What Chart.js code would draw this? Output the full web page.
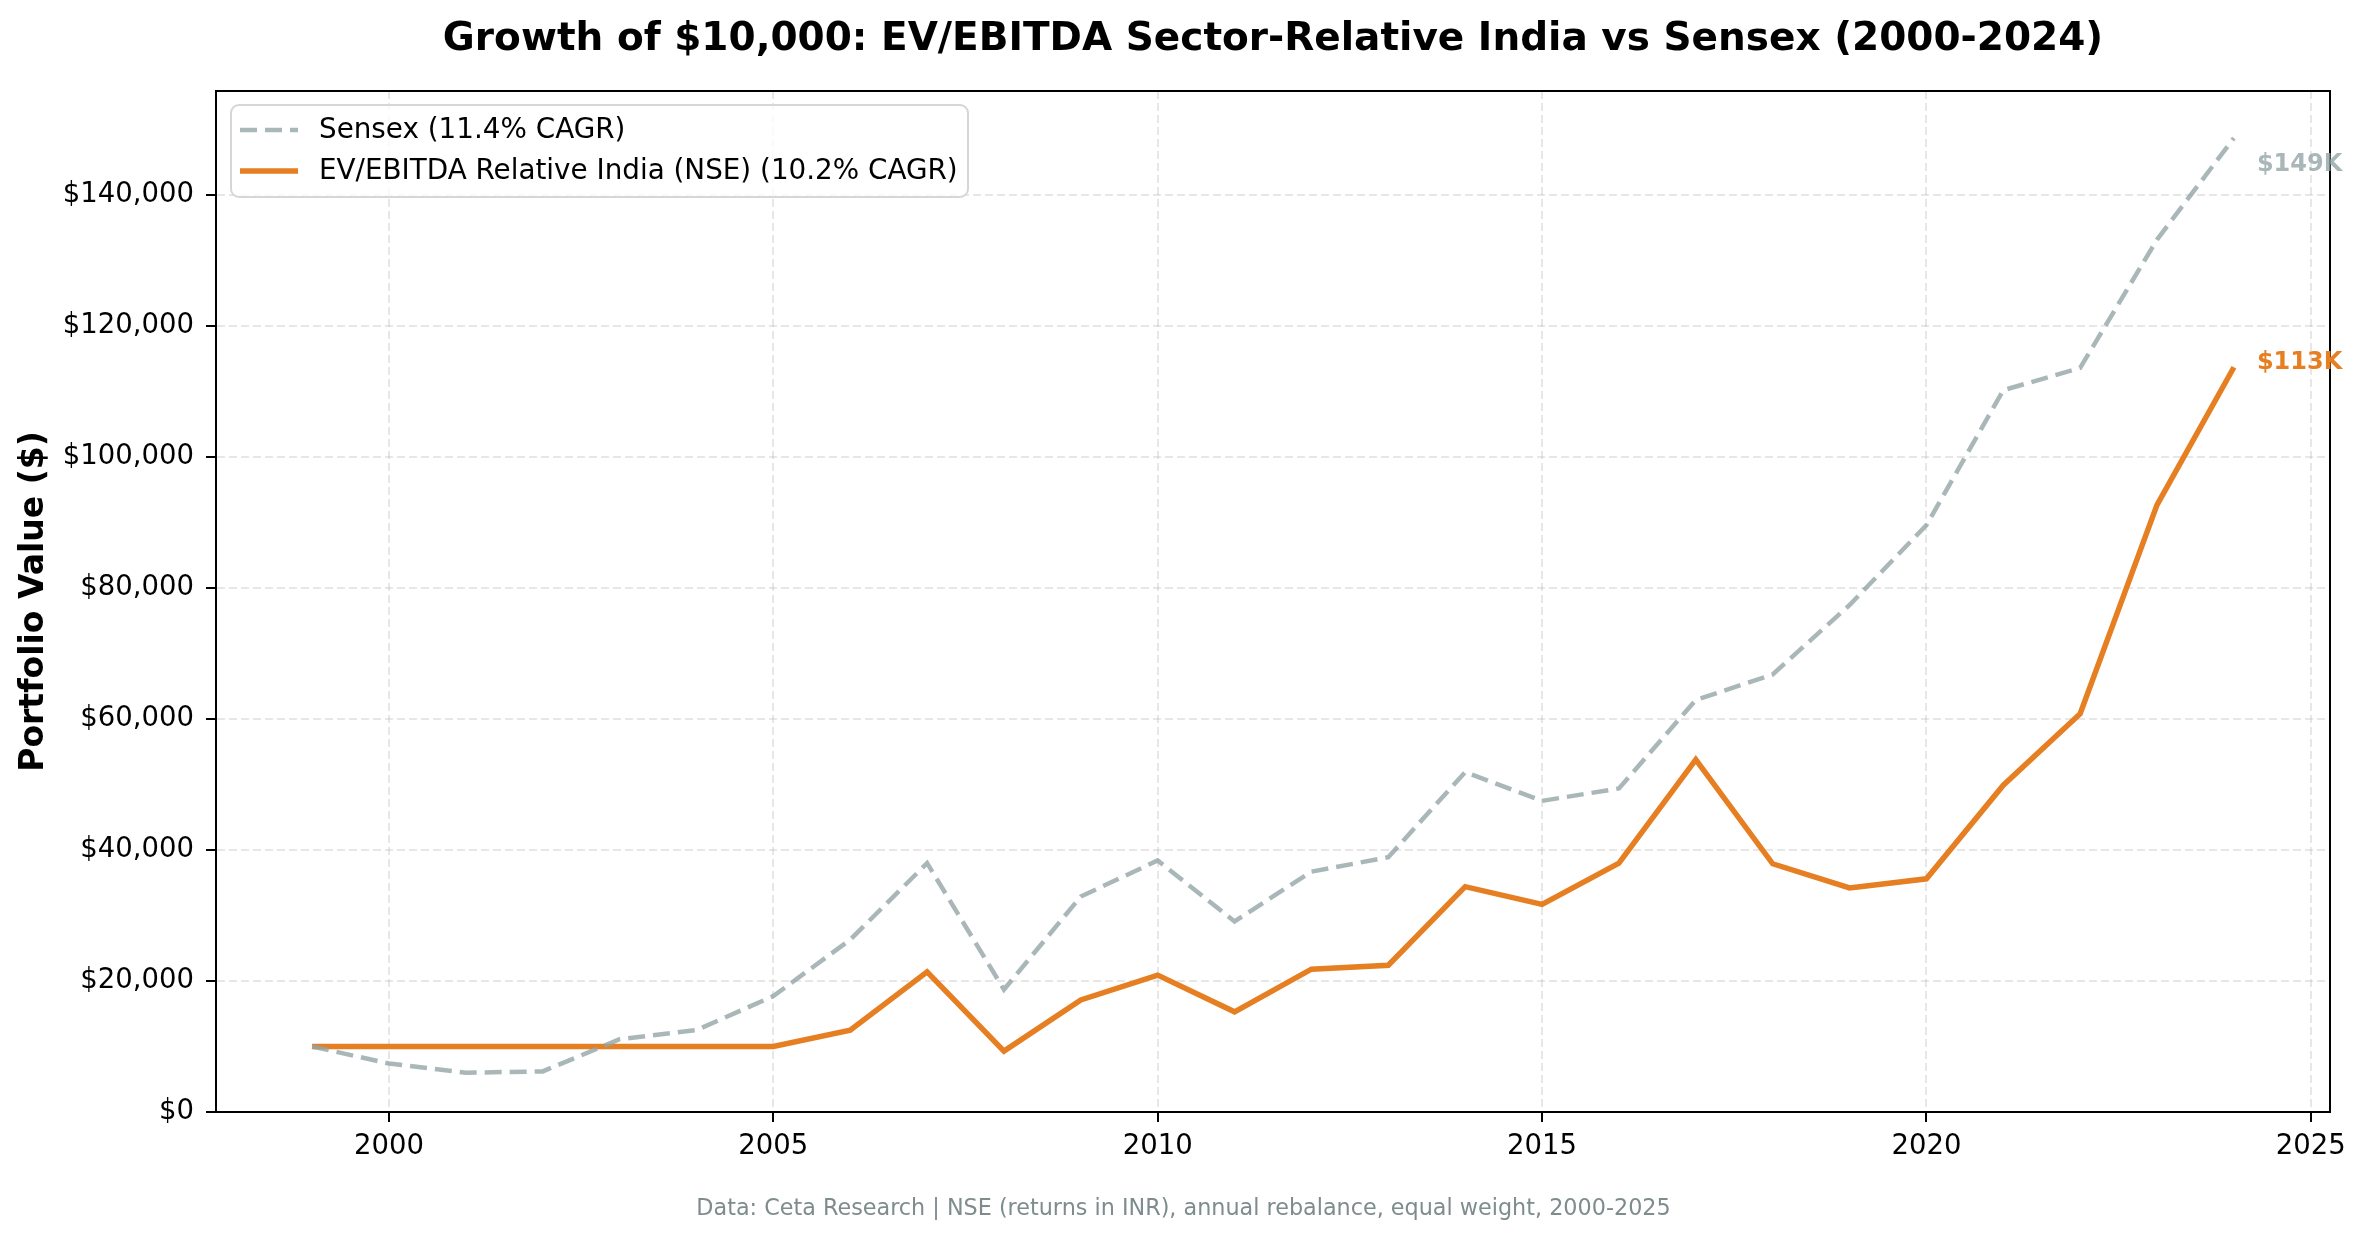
<!DOCTYPE html>
<html>
<head>
<meta charset="utf-8">
<script src="https://cdn.jsdelivr.net/npm/chart.js@4.4.1/dist/chart.umd.min.js"></script>
<style>
  html, body { margin: 0; padding: 0; background: #fff; }
  #wrap { width: 2367px; height: 1239px; position: relative; }
</style>
</head>
<body>
<div id="wrap"><canvas id="growth"></canvas></div>
<script>
// Portfolio values
const years = [1999, 2000, 2001, 2002, 2003, 2004, 2005, 2006, 2007, 2008, 2009, 2010, 2011,
               2012, 2013, 2014, 2015, 2016, 2017, 2018, 2019, 2020, 2021, 2022, 2023, 2024];
const sensexValues = [10000, 7400, 6000, 6200, 11100, 12500, 17700, 26300, 38000, 18700, 32900, 38400, 29100,
                      36700, 38900, 51900, 47500, 49400, 62900, 66800, 77400, 89600, 110200, 113600, 133200, 148700];
const strategyValues = [10000, 10000, 10000, 10000, 10000, 10000, 10000, 12500, 21400, 9300, 17100, 20900, 15300,
                        21800, 22400, 34400, 31700, 38000, 53800, 37900, 34200, 35600, 49900, 60800, 92700, 113700];
const xTicks = [2000, 2005, 2010, 2015, 2020, 2025];
const yTicks = [0, 20000, 40000, 60000, 80000, 100000, 120000, 140000];
const seriesNames = ['Sensex (11.4% CAGR)', 'EV/EBITDA Relative India (NSE) (10.2% CAGR)'];
const endLabels = ['$149K', '$113K'];

const FONT = "'DejaVu Sans', sans-serif";
const SENSEX_COLOR = 'rgba(149, 165, 166, 0.8)';
const STRATEGY_COLOR = '#e67e22';

// title, footer, frame, legend and end labels
const decorations = {
    id: 'decorations',
    afterDraw(chart) {
        const ctx = chart.ctx;
        const area = chart.chartArea;
        ctx.save();

        // top and right spines
        ctx.strokeStyle = '#000';
        ctx.lineWidth = 2;
        ctx.strokeRect(area.left, area.top, area.right - area.left, area.bottom - area.top);

        // title
        ctx.fillStyle = '#000';
        ctx.font = 'bold 39px ' + FONT;
        ctx.textAlign = 'center';
        ctx.textBaseline = 'middle';
        ctx.fillText('Growth of $10,000: EV/EBITDA Sector-Relative India vs Sensex (2000-2024)',
            (area.left + area.right) / 2, 40);

        // footer
        ctx.fillStyle = '#7f8c8d';
        ctx.font = '22.3px ' + FONT;
        ctx.fillText('Data: Ceta Research | NSE (returns in INR), annual rebalance, equal weight, 2000-2025',
            chart.width / 2, 1209);

        // end labels
        const xs = chart.scales.x, ys = chart.scales.y;
        ctx.font = 'bold 24px ' + FONT;
        ctx.textAlign = 'left';
        const last = years.length - 1;
        const lx = xs.getPixelForValue(years[last]) + 23;
        ctx.fillStyle = SENSEX_COLOR;
        ctx.fillText(endLabels[0], lx, ys.getPixelForValue(sensexValues[last]) + 27);
        ctx.fillStyle = STRATEGY_COLOR;
        ctx.fillText(endLabels[1], lx, ys.getPixelForValue(strategyValues[last]) - 5);

        // legend box
        const bx = 231, by = 105, bw = 737, bh = 92, r = 8;
        ctx.beginPath();
        ctx.roundRect(bx, by, bw, bh, r);
        ctx.fillStyle = 'rgba(255,255,255,0.8)';
        ctx.fill();
        ctx.strokeStyle = '#d6d6d6';
        ctx.lineWidth = 2;
        ctx.stroke();

        ctx.lineCap = 'butt';
        ctx.beginPath();
        ctx.strokeStyle = SENSEX_COLOR;
        ctx.lineWidth = 4.5;
        ctx.setLineDash([17, 8]);
        ctx.moveTo(240, 130);
        ctx.lineTo(298, 130);
        ctx.stroke();
        ctx.setLineDash([]);
        ctx.beginPath();
        ctx.strokeStyle = STRATEGY_COLOR;
        ctx.lineWidth = 5.5;
        ctx.moveTo(240, 171);
        ctx.lineTo(298, 171);
        ctx.stroke();

        ctx.fillStyle = '#000';
        ctx.font = '27.8px ' + FONT;
        ctx.textAlign = 'left';
        ctx.fillText(seriesNames[0], 319, 131);
        ctx.fillText(seriesNames[1], 319, 172);

        ctx.restore();
    }
};

const axisFont = { family: FONT, size: 27.5 };
const gridStyle = {
    color: 'rgba(176, 176, 176, 0.3)',
    lineWidth: 2,
    tickLength: 10,
    tickWidth: 2,
    tickColor: '#000'
};

new Chart(document.getElementById('growth'), {
    type: 'line',
    data: {
        datasets: [{
            label: seriesNames[0],
            data: years.map((yr, i) => ({ x: yr, y: sensexValues[i] })),
            borderColor: SENSEX_COLOR,
            borderWidth: 4.5,
            borderDash: [17, 8],
            pointRadius: 0,
            tension: 0,
            fill: false
        }, {
            label: seriesNames[1],
            data: years.map((yr, i) => ({ x: yr, y: strategyValues[i] })),
            borderColor: STRATEGY_COLOR,
            borderWidth: 5.5,
            pointRadius: 0,
            tension: 0,
            fill: false
        }]
    },
    options: {
        responsive: true,
        maintainAspectRatio: false,
        animation: false,
        devicePixelRatio: 1,
        layout: { padding: { left: 0, top: 91, right: 37, bottom: 0 } },
        plugins: {
            legend: { display: false },
            tooltip: { enabled: false },
            title: { display: false }
        },
        scales: {
            x: {
                type: 'linear',
                min: 1997.75,
                max: 2025.25,
                afterBuildTicks: s => { s.ticks = xTicks.map(v => ({ value: v })); },
                afterFit: s => { s.height = 127; },
                grid: gridStyle,
                border: { display: true, color: '#000', width: 2, dash: [8, 4] },
                ticks: {
                    color: '#000',
                    font: axisFont,
                    padding: 8,
                    maxRotation: 0,
                    callback: v => String(v)
                }
            },
            y: {
                type: 'linear',
                min: 0,
                max: 155880,
                afterBuildTicks: s => { s.ticks = yTicks.map(v => ({ value: v })); },
                afterFit: s => { s.width = 216; },
                grid: gridStyle,
                border: { display: true, color: '#000', width: 2, dash: [8, 4] },
                title: {
                    display: true,
                    text: 'Portfolio Value ($)',
                    color: '#000',
                    font: { family: FONT, size: 33, weight: 'bold' },
                    padding: { top: 15, bottom: 0 }
                },
                ticks: {
                    color: '#000',
                    font: axisFont,
                    padding: 12,
                    callback: v => '$' + v.toLocaleString('en-US')
                }
            }
        }
    },
    plugins: [decorations]
});
</script>
</body>
</html>
